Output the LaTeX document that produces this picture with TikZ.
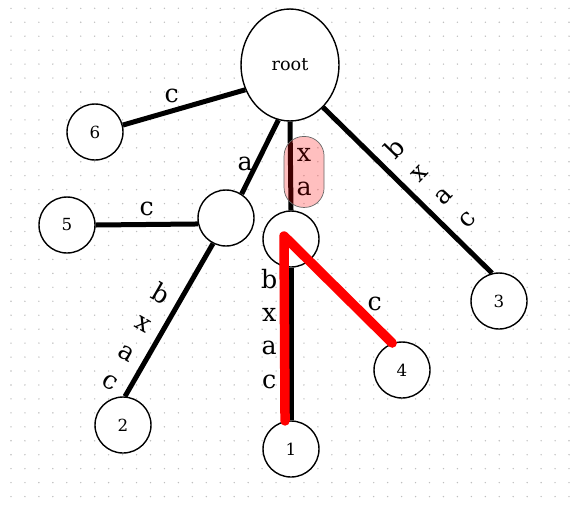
\documentclass[tikz,border=0pt]{standalone}
\usepackage{fontspec}
\setmainfont{DejaVu Serif}
\usepackage{tikz}
\usetikzlibrary{shapes.geometric}

\tikzset{
  treenode/.style={circle, draw, line width=0.8pt, fill=white, minimum size=1.12cm, inner sep=0pt, font=\fontsize{9.5}{11}\selectfont},
  rootnode/.style={ellipse, draw, line width=0.8pt, fill=white, minimum width=1.96cm, minimum height=2.24cm, inner sep=0pt, font=\fontsize{10}{12}\selectfont},
  branch/.style={line width=0.1cm},
  hilite/.style={red, line width=0.19cm, line cap=round, line join=round},
  lbl/.style={font=\fontsize{14.4}{19}\selectfont},
  vstack/.style={lbl, align=center},
  xabox/.style={vstack, draw=black!60, thin, fill=red, fill opacity=0.25, text opacity=1, text=red!20!black,
    minimum width=0.8cm, minimum height=1.42cm, rounded corners=0.39cm, inner sep=0pt}
}

\begin{document}
\begin{tikzpicture}[x=0.02cm, y=-0.02cm]
    \useasboundingbox (0,0) rectangle (570,504);
    \foreach \i in {0,...,40}
      \foreach \j in {0,...,35}
        \fill[black!25] (11+13.95*\i, 8.3+13.95*\j) circle[radius=0.45pt];

    \node[rootnode] (root) at (290,65) {root};
    \node[treenode] (n6) at (95,132) {6};
    \node[treenode] (n5) at (67,225) {5};
    \node[treenode] (na) at (226,218) {};
    \node[treenode] (nx) at (291,239) {};
    \node[treenode] (n3) at (499,301) {3};
    \node[treenode] (n4) at (402,370) {4};
    \node[treenode] (n2) at (123,425) {2};
    \node[treenode] (n1) at (291,449) {1};
    \coordinate (bend) at (284,236);

    \draw[branch] (root.209) -- (n6.14) node[lbl, pos=0.6, above] {c};
    \draw[branch] (root.258) -- (na.57) node[lbl, pos=0.59, left, xshift=2.5pt] {a};
    \draw[branch] (root.south) -- (nx.north) node[xabox, pos=0.567, xshift=0.27cm] {x\\a};
    \draw[branch] (root.-52) -- (n3.104)
        node[vstack, pos=0.547, xshift=0.29cm, yshift=0.3cm, rotate=46] {b\\x\\a\\c};
    \draw[branch] (na.192) -- (n5.east) node[lbl, midway, above] {c};
    \draw[branch] (na.243) -- (n2.86)
        node[vstack, pos=0.674, xshift=-0.354cm, yshift=0.204cm, rotate=-30] {b\\x\\a\\c};
    \draw[branch] (nx.south) -- (n1.north) node[vstack, pos=0.4, left, xshift=-3pt] {b\\x\\a\\c};
    \draw[branch] (nx.-50) -- (n4.110) node[lbl, pos=0.79, above, yshift=3.5pt] {c};
    \draw[hilite] (n1.102) -- (bend) -- (n4.110);
\end{tikzpicture}
\end{document}
